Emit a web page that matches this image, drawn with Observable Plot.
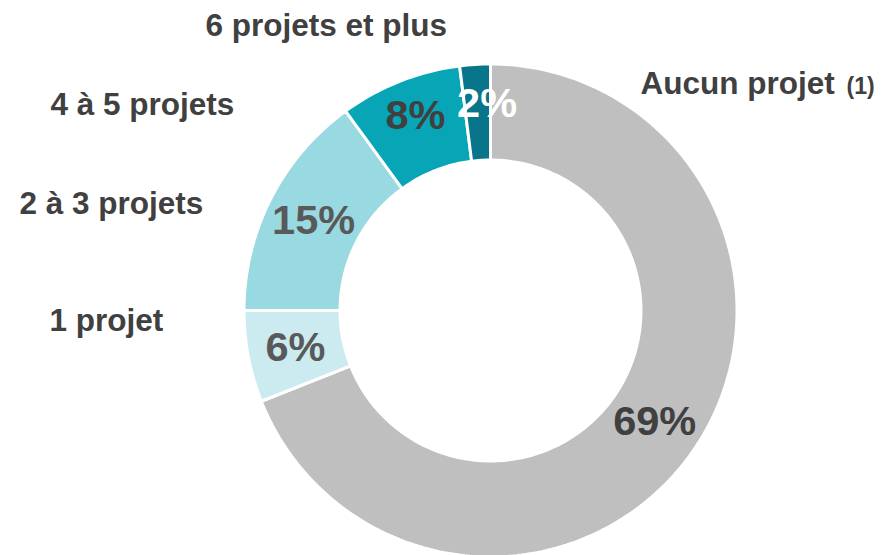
<!DOCTYPE html>
<html><head><meta charset="utf-8">
<script src="https://cdn.jsdelivr.net/npm/d3@7"></script>
<script src="https://cdn.jsdelivr.net/npm/@observablehq/plot@0.6"></script>
<style>body{margin:0;background:#fff;} svg{display:block;}</style>
</head><body><div id="chart"></div>
<script>
// ---- data ----
const categories = ["Aucun projet", "1 projet", "2 à 3 projets", "4 à 5 projets", "6 projets et plus"];
const shares = [69, 6, 15, 8, 2];
const percentLabels = ["69%", "6%", "15%", "8%", "2%"];
const footnote = "(1)";
// ---- style ----
const colors = ["#bfbfbf", "#cbebf0", "#99d9e1", "#07a5b6", "#08758a"];
const percentColors = ["#404040", "#595959", "#595959", "#404040", "#ffffff"];
const percentNudge = [[0, 0], [0, 0], [0, 0], [-2, -10], [9, -9]];
// category label anchors (pixel layout, start-anchored, baseline)
const labelLayout = [[640, 93], [49, 330], [19, 213], [50, 114], [205, 35]];
const footLayout = [846, 93];

const W = 882, H = 555, cx = 490, cy = 310;
const Rpx = 246.5, rpx = 150.5, sw = 3;
const inner = rpx / Rpx;
const toU = px => (px - cx) / Rpx;
const toV = py => (cy - py) / Rpx;

const total = d3.sum(shares);
const cum = d3.cumsum(shares);
const slices = [];
const labels = [];
shares.forEach((s, i) => {
  const a0 = (cum[i] - s) / total * 2 * Math.PI;
  const a1 = cum[i] / total * 2 * Math.PI;
  const n = Math.max(8, Math.ceil(s * 3));
  const pts = [];
  for (let k = 0; k <= n; k++) {
    const a = a0 + (a1 - a0) * k / n;
    pts.push({x: Math.sin(a), y: Math.cos(a), i});
  }
  for (let k = n; k >= 0; k--) {
    const a = a0 + (a1 - a0) * k / n;
    pts.push({x: inner * Math.sin(a), y: inner * Math.cos(a), i});
  }
  slices.push(pts);
  const am = (a0 + a1) / 2, rm = (1 + inner) / 2;
  labels.push({x: rm * Math.sin(am), y: rm * Math.cos(am), text: percentLabels[i], color: percentColors[i], dx: percentNudge[i][0], dy: percentNudge[i][1]});
});

const catData = categories.map((c, i) => ({x: toU(labelLayout[i][0]), y: toV(labelLayout[i][1]), text: c}));

const font = "'Liberation Sans', Arial, sans-serif";
const marks = [];
slices.forEach((pts, i) => {
  marks.push(Plot.line(pts, {x: "x", y: "y", curve: "linear-closed", fill: colors[i], stroke: "#ffffff", strokeWidth: sw, strokeLinejoin: "miter"}));
});
labels.forEach(l => {
  marks.push(Plot.text([l], {x: "x", y: "y", text: "text", fill: l.color, fontSize: 41.5, fontWeight: "bold", dx: l.dx, dy: l.dy}));
});
marks.push(Plot.text(catData, {x: "x", y: "y", text: "text", textAnchor: "start", lineAnchor: "bottom", fill: "#404040", fontSize: 31.5, fontWeight: "bold"}));
marks.push(Plot.text([{x: toU(footLayout[0]), y: toV(footLayout[1]), text: footnote}], {x: "x", y: "y", text: "text", textAnchor: "start", lineAnchor: "bottom", fill: "#404040", fontSize: 23, fontWeight: "bold"}));

const chart = Plot.plot({
  width: W, height: H,
  margin: 0,
  style: {fontFamily: font, background: "#ffffff", overflow: "visible"},
  x: {type: "linear", domain: [toU(0), toU(W)], range: [0, W], axis: null},
  y: {type: "linear", domain: [toV(H), toV(0)], range: [H, 0], axis: null},
  marks
});
document.getElementById("chart").append(chart);
</script>
</body></html>
